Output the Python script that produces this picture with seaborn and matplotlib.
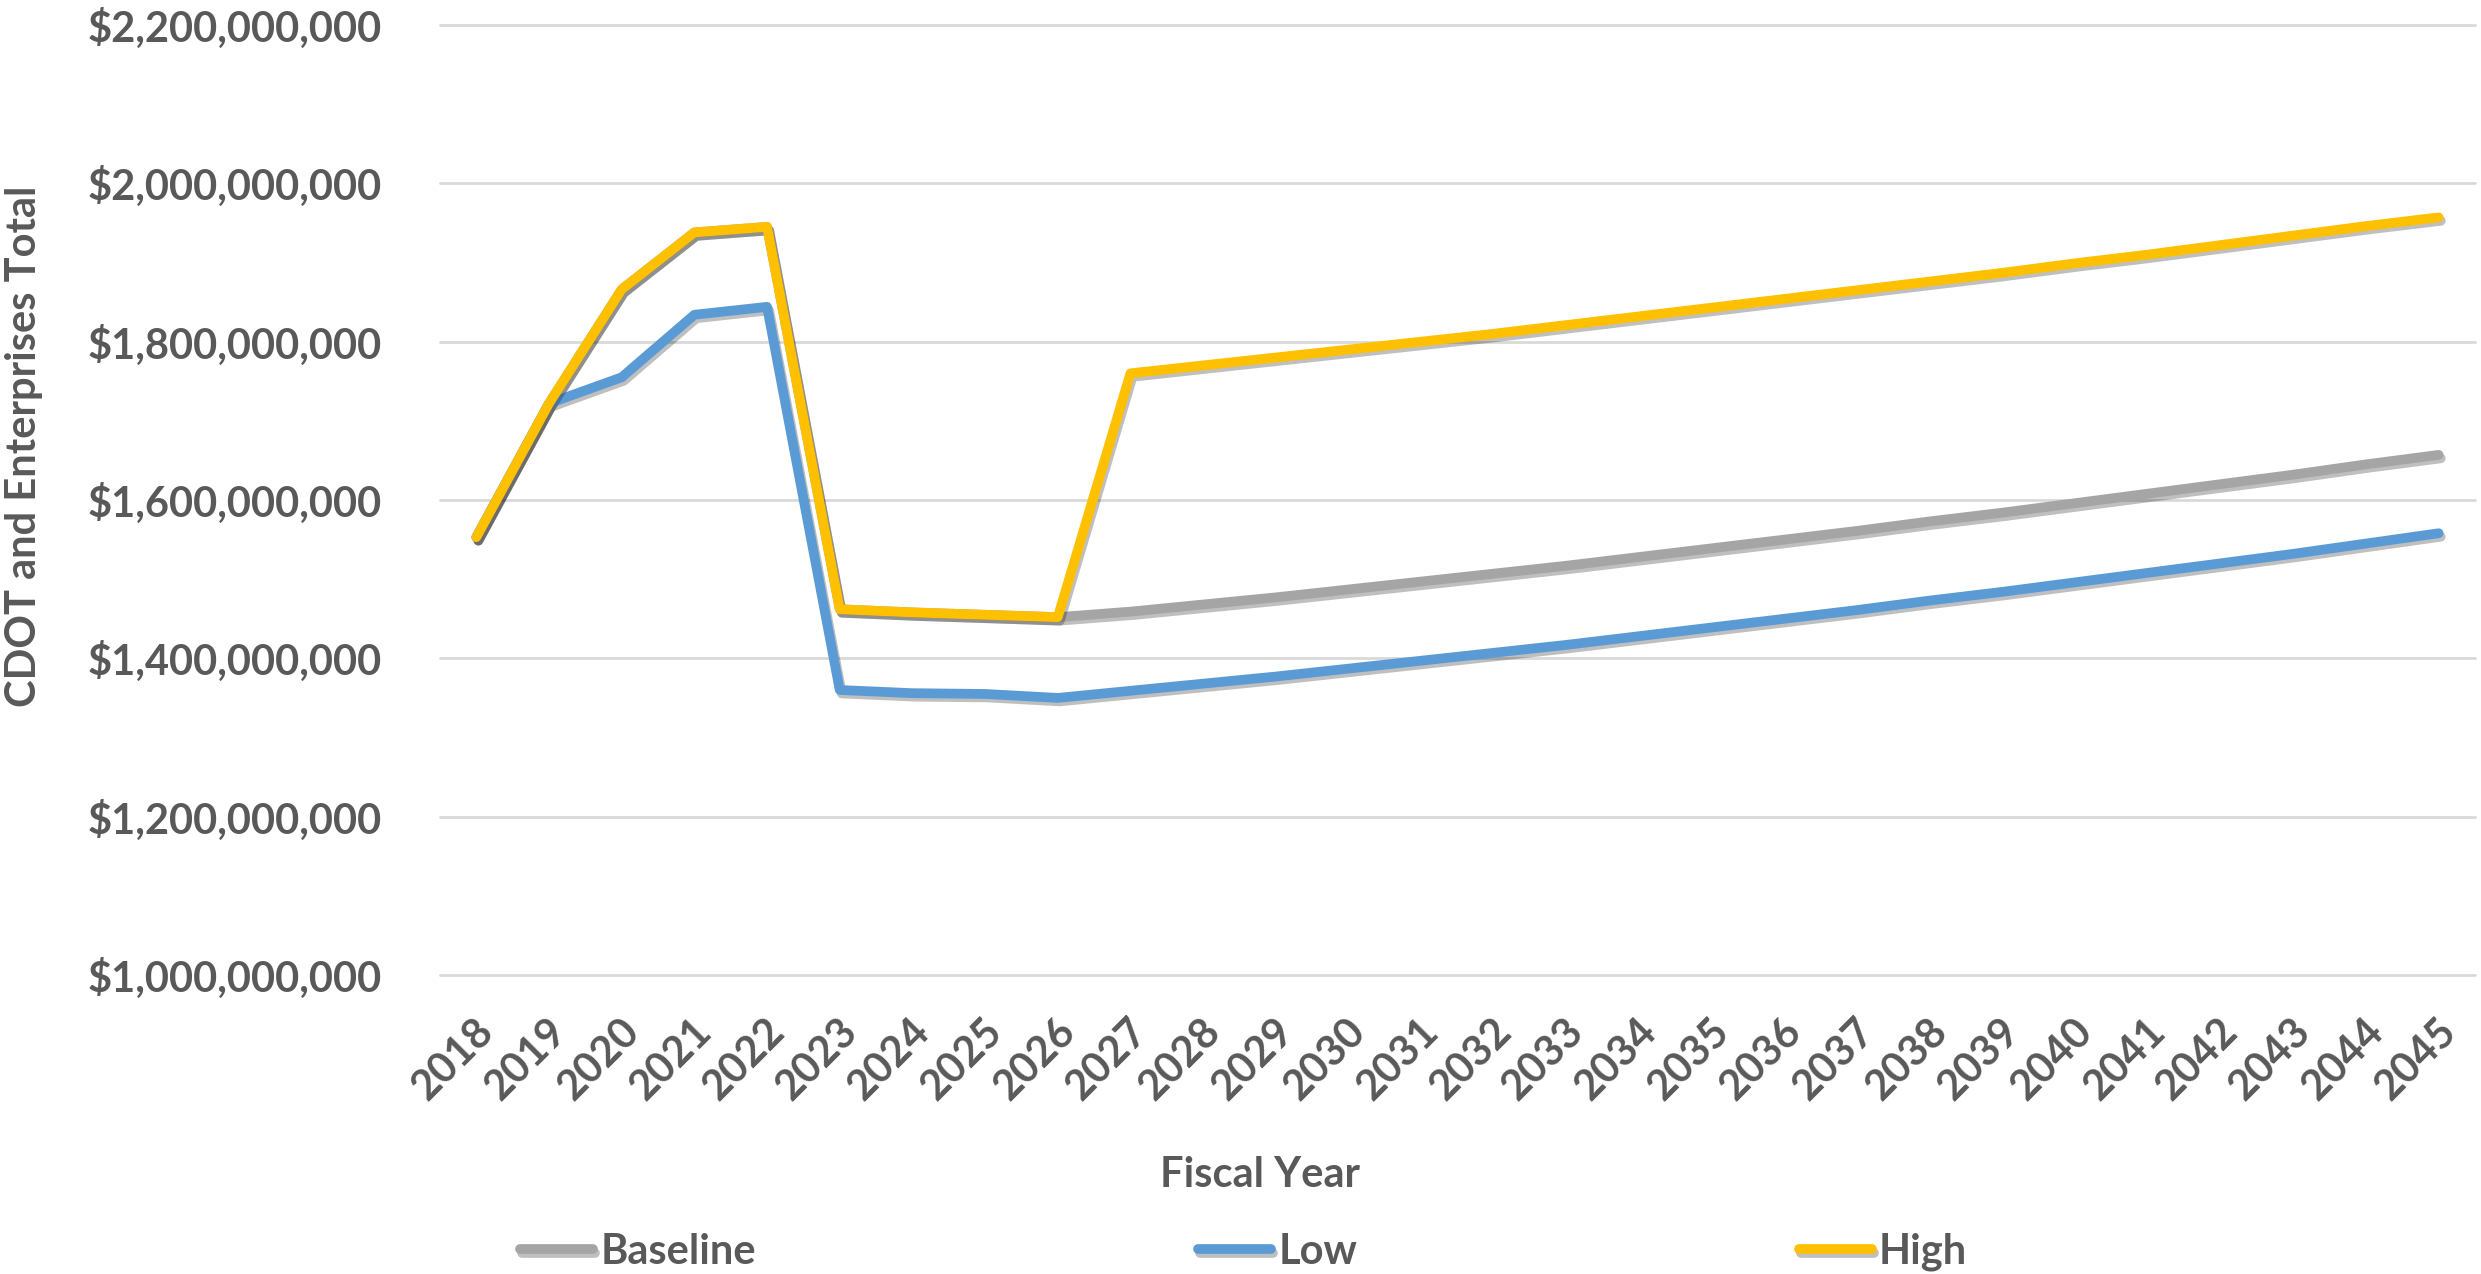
import matplotlib
matplotlib.use("Agg")
import matplotlib.pyplot as plt
import matplotlib.patheffects as pe
import matplotlib.transforms as mtransforms
from matplotlib.ticker import FuncFormatter
import pandas as pd
import seaborn as sns

years = list(range(2018, 2046))
baseline = [1553, 1722, 1866, 1938, 1945, 1462, 1458, 1455, 1452,
            1459, 1468, 1477, 1487, 1497, 1507, 1517, 1528, 1539, 1550,
            1561, 1573, 1584, 1596, 1608, 1620, 1632, 1645, 1657]
low = [1553, 1722, 1755, 1834, 1844, 1360, 1356, 1355, 1350,
       1359, 1368, 1377, 1387, 1397, 1407, 1417, 1428, 1439, 1450,
       1461, 1473, 1484, 1496, 1508, 1520, 1532, 1545, 1558]
high = [1553, 1722, 1866, 1938, 1945, 1462, 1458, 1455, 1452,
        1760, 1770, 1780, 1790, 1800, 1810, 1821, 1832, 1843, 1854,
        1865, 1876, 1887, 1899, 1910, 1922, 1934, 1946, 1957]
scenarios = ['Baseline', 'Low', 'High']
colors = ['#A5A5A5', '#5B9BD5', '#FFC000']

df = pd.DataFrame({'year': years * 3,
                   'value': [v * 1e6 for v in baseline + low + high],
                   'scenario': [s for s in scenarios for _ in years]})

sns.set_style("white")
plt.rcParams['font.family'] = ['Lato', 'DejaVu Sans']
plt.rcParams['font.weight'] = 'bold'
txt = '#595959'
fs = 30

W, H = 2481, 1274
fig = plt.figure(figsize=(W / 100, H / 100), dpi=100)
ax = fig.add_axes([440 / W, 1 - 975 / H, (2475 - 440) / W, (975 - 25) / H])

sns.lineplot(data=df, x='year', y='value', hue='scenario', hue_order=scenarios,
             palette=colors, linewidth=7, ax=ax, legend=True)
for line in ax.get_lines():
    line.set_solid_joinstyle('round')
    line.set_solid_capstyle('round')
    line.set_path_effects([pe.SimpleLineShadow(offset=(1.5, -2.5), shadow_color='k', alpha=0.25),
                           pe.Normal()])

handles, labels = ax.get_legend_handles_labels()
ax.get_legend().remove()

ax.set_xlim(2017.5, 2045.5)
ax.set_ylim(1e9, 2.2e9)
ax.set_yticks([1e9 + 2e8 * i for i in range(7)])
ax.yaxis.set_major_formatter(FuncFormatter(lambda v, p: '${:,.0f}'.format(v)))
ax.set_xticks(years)
ax.set_xticklabels([str(y) for y in years])
ax.yaxis.grid(True, color='#D9D9D9', linewidth=2)
ax.xaxis.grid(False)
for gl in ax.get_ygridlines():
    gl.set_clip_on(False)
for s in ax.spines.values():
    s.set_visible(False)
ax.tick_params(axis='both', length=0, labelsize=fs, labelcolor=txt)
ax.tick_params(axis='y', pad=42)
ax.tick_params(axis='x', pad=36)
ax.set_xlabel('')
ax.set_ylabel('')

# nudge rotated year labels to sit like the original
offset = mtransforms.ScaledTranslation(11 / 100, 0, fig.dpi_scale_trans)
for lab in ax.get_xticklabels():
    lab.set_rotation(45)
    lab.set_ha('right')
    lab.set_va('center')
    lab.set_rotation_mode('anchor')
    lab.set_transform(lab.get_transform() + offset)

fig.text(1260 / W, 1 - 1175 / H, 'Fiscal Year', ha='center', va='center',
         fontsize=fs, color=txt, fontweight='bold')
fig.text(24 / W, 1 - 446 / H, 'CDOT and Enterprises Total', ha='center', va='center',
         rotation=90, fontsize=fs, color=txt, fontweight='bold')

leg = fig.legend(handles, labels, loc='center left', bbox_to_anchor=(520 / W, 1 - 1252 / H),
                 ncol=3, frameon=False, fontsize=fs, handlelength=1.75, handletextpad=0.18,
                 columnspacing=10.6, borderpad=0, borderaxespad=0)
for t in leg.get_texts():
    t.set_color(txt)
    t.set_fontweight('bold')

fig.savefig('out.png', dpi=100, facecolor='white')
